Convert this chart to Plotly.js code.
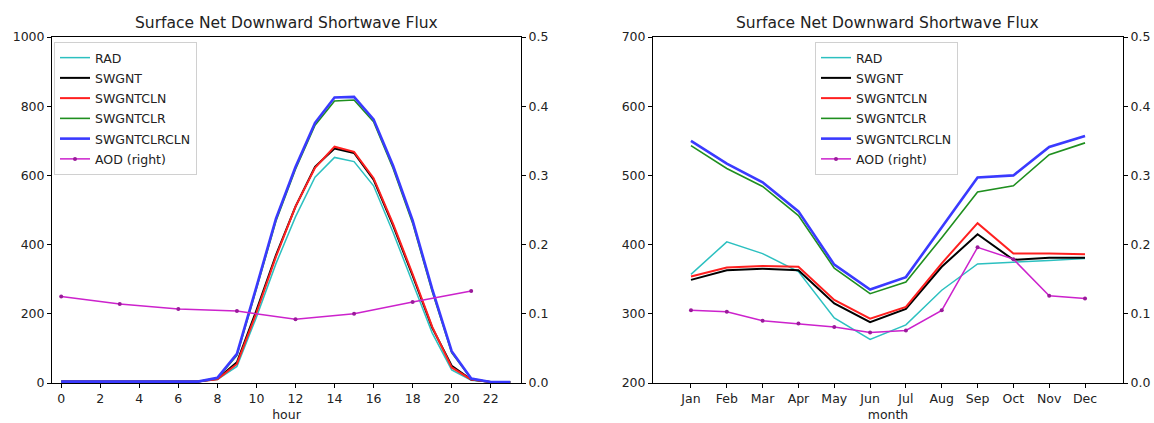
<!DOCTYPE html>
<html>
<head>
<meta charset="utf-8">
<script src="https://cdn.plot.ly/plotly-3.0.1.min.js"></script>
<style>html,body{margin:0;padding:0;background:#fff;}#chart{width:1154px;height:423px;}</style>
</head>
<body>
<div id="chart"></div>
<script>
// ---- Left panel: diurnal cycle (hour) ----
const hours = [0,1,2,3,4,5,6,7,8,9,10,11,12,13,14,15,16,17,18,19,20,21,22,23];
const radHour        = [4,4,4,4,4,4,4,4,10,48,190,345,480,595,652,640,570,435,290,145,38,8,3,3];
const swgntHour      = [4,4,4,4,4,4,4,4,12,60,210,370,510,625,678,665,588,455,310,160,50,10,3,3];
const swgntclnHour   = [4,4,4,4,4,4,4,4,11,55,203,365,510,622,683,668,592,460,315,163,45,10,3,3];
const swgntclrHour   = [4,4,4,4,4,4,4,4,14,80,272,468,618,745,815,818,755,620,462,265,88,12,3,3];
const swgntclrclnHour= [4,4,4,4,4,4,4,4,15,84,278,475,624,752,825,827,762,628,470,272,92,13,3,3];
const aodHours = [0,3,6,9,12,15,18,21];
const aodHour  = [0.125,0.114,0.107,0.104,0.092,0.100,0.117,0.133];
const hourTicks = [0,2,4,6,8,10,12,14,16,18,20,22];

// ---- Right panel: annual cycle (month) ----
const months = ['Jan','Feb','Mar','Apr','May','Jun','Jul','Aug','Sep','Oct','Nov','Dec'];
const radMon         = [357,404,387,361,294,263,284,334,372,374,377,380];
const swgntMon       = [349,363,365,363,315,288,307,368,415,378,381,381];
const swgntclnMon    = [354,367,369,368,320,293,310,373,431,387,387,386];
const swgntclrMon    = [543,510,484,442,366,329,346,410,476,485,530,547];
const swgntclrclnMon = [550,517,490,448,371,335,353,425,497,500,541,557];
const aodMon         = [0.105,0.103,0.090,0.086,0.081,0.073,0.076,0.105,0.196,0.179,0.126,0.122];

const names = ['RAD','SWGNT','SWGNTCLN','SWGNTCLR','SWGNTCLRCLN'];
const colors = ['#2cc0c0','#000000','#ff2020','#1f8f1f','#3a3aff'];
const widths = [1.5,2,2,1.6,2.6];
const aodColor = '#cc22cc';
const font = 'DejaVu Sans, sans-serif';
const tickFont = {family: font, size: 12.5, color: '#222'};

const hourSeries = [radHour, swgntHour, swgntclnHour, swgntclrHour, swgntclrclnHour];
const monSeries  = [radMon, swgntMon, swgntclnMon, swgntclrMon, swgntclrclnMon];

const traces = [];
hourSeries.forEach((s,i)=>{
  traces.push({x: hours, y: s, type:'scatter', mode:'lines', name: names[i],
    line:{color: colors[i], width: widths[i]}, xaxis:'x', yaxis:'y',
    legend:'legend', legendgroup:'L'+i});
});
traces.push({x: aodHours, y: aodHour, type:'scatter', mode:'lines+markers', name:'AOD (right)',
  line:{color: aodColor, width:1.5}, marker:{color:'#9a1a9a', size:4},
  xaxis:'x', yaxis:'y2', legend:'legend', legendgroup:'L5'});
monSeries.forEach((s,i)=>{
  traces.push({x: months, y: s, type:'scatter', mode:'lines', name: names[i],
    line:{color: colors[i], width: widths[i]}, xaxis:'x2', yaxis:'y3',
    legend:'legend2', legendgroup:'R'+i});
});
traces.push({x: months, y: aodMon, type:'scatter', mode:'lines+markers', name:'AOD (right)',
  line:{color: aodColor, width:1.5}, marker:{color:'#9a1a9a', size:4},
  xaxis:'x2', yaxis:'y4', legend:'legend2', legendgroup:'R5'});

const yDom = [40/423, 386/423];
const axBase = {showgrid:false, zeroline:false, showline:true, linecolor:'#000', linewidth:1,
  ticks:'outside', ticklen:4, tickcolor:'#000', tickwidth:1, tickfont: tickFont};

const legendBase = {bgcolor:'rgba(255,255,255,0.85)', bordercolor:'#d0d0d0', borderwidth:1,
  font:{family: font, size:12.5, color:'#222'}, xanchor:'left', yanchor:'top',
  traceorder:'grouped', tracegroupgap:1, itemwidth:30};

const layout = {
  width:1154, height:423, paper_bgcolor:'#fff', plot_bgcolor:'#fff',
  margin:{l:0,r:0,t:0,b:0}, showlegend:true,
  font:{family: font},
  xaxis: Object.assign({}, axBase, {domain:[52/1154, 521/1154], anchor:'y', range:[-0.47,23.55],
    tickvals: hourTicks, mirror:true,
    title:{text:'hour', font:{family:font,size:12.5,color:'#222'}, standoff:5}}),
  yaxis: Object.assign({}, axBase, {domain:yDom, anchor:'x', range:[0,1000], dtick:200}),
  yaxis2: Object.assign({}, axBase, {domain:yDom, anchor:'x', overlaying:'y', side:'right',
    range:[0,0.5], dtick:0.1, tickformat:'.1f'}),
  xaxis2: Object.assign({}, axBase, {domain:[653/1154, 1123/1154], anchor:'y3', type:'category',
    range:[-1.06,12.06], mirror:true,
    title:{text:'month', font:{family:font,size:12.5,color:'#222'}, standoff:5}}),
  yaxis3: Object.assign({}, axBase, {domain:yDom, anchor:'x2', range:[200,700], dtick:100}),
  yaxis4: Object.assign({}, axBase, {domain:yDom, anchor:'x2', overlaying:'y3', side:'right',
    range:[0,0.5], dtick:0.1, tickformat:'.1f'}),
  legend: Object.assign({}, legendBase, {x:54/1154, y:(423-42)/423}),
  legend2: Object.assign({}, legendBase, {x:815/1154, y:(423-42)/423}),
  annotations:[
    {text:'Surface Net Downward Shortwave Flux', xref:'paper', yref:'paper',
     x:(52+521)/2/1154, y:(423-23)/423, xanchor:'center', yanchor:'middle', showarrow:false,
     font:{family:font, size:15.5, color:'#222'}},
    {text:'Surface Net Downward Shortwave Flux', xref:'paper', yref:'paper',
     x:(653+1123)/2/1154, y:(423-23)/423, xanchor:'center', yanchor:'middle', showarrow:false,
     font:{family:font, size:15.5, color:'#222'}}
  ]
};

Plotly.newPlot('chart', traces, layout, {staticPlot:true, displayModeBar:false});
</script>
</body>
</html>
